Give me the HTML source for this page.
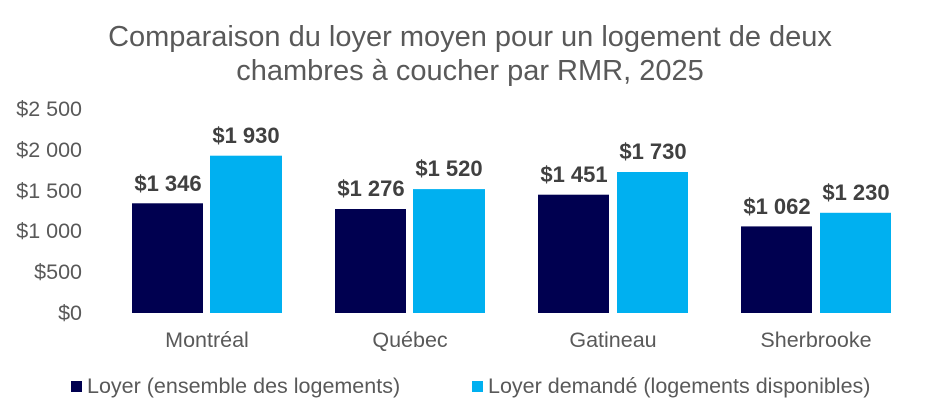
<!DOCTYPE html>
<html><head><meta charset="utf-8"><style>
body{margin:0;background:#fff;}
svg{display:block;font-family:"Liberation Sans",Arial,sans-serif;}
</style></head><body>
<svg width="940" height="413" viewBox="0 0 940 413" xmlns="http://www.w3.org/2000/svg">
<rect width="940" height="413" fill="#fff"/>
<g fill="#595959" font-size="29" text-anchor="middle">
<text x="470" y="46">Comparaison du loyer moyen pour un logement de deux</text>
<text x="470" y="80">chambres à coucher par RMR, 2025</text>
</g>
<g fill="#595959" font-size="21.5" text-anchor="end">
<text x="82" y="116">$2 500</text>
<text x="82" y="157">$2 000</text>
<text x="82" y="198">$1 500</text>
<text x="82" y="238">$1 000</text>
<text x="82" y="279">$500</text>
<text x="82" y="320">$0</text>
</g>
<g>
<rect x="132" y="203.3" width="71" height="109.7" fill="#000050"/>
<rect x="210" y="155.7" width="72" height="157.3" fill="#00b0f0"/>
<rect x="335" y="209" width="71" height="104" fill="#000050"/>
<rect x="413" y="189.1" width="72" height="123.9" fill="#00b0f0"/>
<rect x="538" y="194.7" width="71" height="118.3" fill="#000050"/>
<rect x="617" y="172" width="71" height="141" fill="#00b0f0"/>
<rect x="741" y="226.4" width="71" height="86.6" fill="#000050"/>
<rect x="820" y="212.8" width="71" height="100.2" fill="#00b0f0"/>
</g>
<g fill="#404040" font-size="22" font-weight="bold" text-anchor="middle">
<text x="168" y="191">$1 346</text>
<text x="246" y="143">$1 930</text>
<text x="371" y="196">$1 276</text>
<text x="449" y="176">$1 520</text>
<text x="574" y="182">$1 451</text>
<text x="653" y="159">$1 730</text>
<text x="777" y="214">$1 062</text>
<text x="856" y="200">$1 230</text>
</g>
<g fill="#595959" font-size="21.5" text-anchor="middle">
<text x="207" y="347">Montréal</text>
<text x="410" y="347">Québec</text>
<text x="613" y="347">Gatineau</text>
<text x="816" y="347">Sherbrooke</text>
</g>
<rect x="71" y="381" width="11" height="11" fill="#000050"/>
<rect x="472" y="381" width="11" height="11" fill="#00b0f0"/>
<g fill="#595959" font-size="21.5">
<text x="87" y="393">Loyer (ensemble des logements)</text>
<text x="488" y="393">Loyer demandé (logements disponibles)</text>
</g>
</svg>
</body></html>
